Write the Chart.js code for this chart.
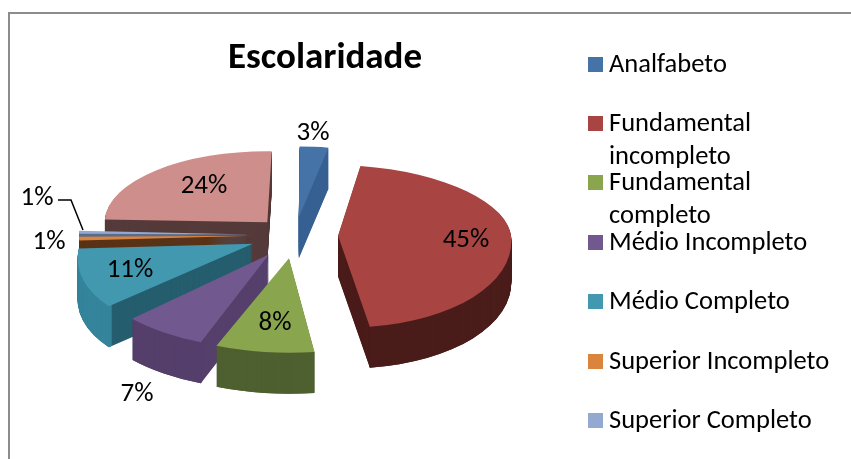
<!DOCTYPE html>
<html><head><meta charset="utf-8">
<style>html,body{margin:0;padding:0;background:#fff}canvas{display:block}</style>
<script src="https://cdn.jsdelivr.net/npm/chart.js@4/dist/chart.umd.min.js"></script>
</head><body>
<canvas id="c" width="851" height="459"></canvas>
<script>
const chartTitle = 'Escolaridade';
const categories = ['Analfabeto','Fundamental incompleto','Fundamental completo','Médio Incompleto','Médio Completo','Superior Incompleto','Superior Completo',''];
const values = [3,45,8,7,11,1,1,24];

const topColors = ['#4572a7','#a84442','#89a54e','#71588f','#4198af','#db843d','#93a9cf','#ce8e8c'];
const cutColors = ['#376092','#4a1c1a','#4f6030','#553f6b','#255e6e','#5a3216','#5a6c8c','#553a3a'];
const rimColors = ['#376092','#4a1c1a','#4f6030','#553f6b','#34849b','#5a3216','#5a6c8c','#553a3a'];
const drawOrder = [7,6,0,5,4,3,1,2];
const xStretch = [0.94,1,1.12,1.08,1,1,1,0.94];
const yStretch = [1,1,1.03,1.03,0.98,1,1,1];
const shearAbove = [0,0.145,0,0,0,0,0,0];
const shearBelow = [0,0.11,0,0,-0.31,0,0,0];

const DEPTH = 41, S_TOP = 0.41, S_BOT = 0.53, EXPLODE = 43, RADIUS = 173, WIDEN = 0.027;
const FONT = 'Carlito, Lato, sans-serif';

const legendRows = [
  {i:0, y:57, lines:['Analfabeto']},
  {i:1, y:116, lines:['Fundamental','incompleto']},
  {i:2, y:175, lines:['Fundamental','completo']},
  {i:3, y:235, lines:['Médio Incompleto']},
  {i:4, y:294, lines:['Médio Completo']},
  {i:5, y:354, lines:['Superior Incompleto']},
  {i:6, y:413, lines:['Superior Completo']}
];
const labelSpots = [[313,133],[466,240],[275,323],[137,394],[130,270],[49,242],[37,198],[204,186]];

function paint(ctx, arc, dy, color, rim){
  const saved = {o:arc.options, i:arc.innerRadius, r:arc.outerRadius, s:arc.startAngle, e:arc.endAngle};
  const o = Object.create(saved.o); o.backgroundColor = color; arc.options = o;
  const fix = 1 - Math.sin(Math.min(Math.PI, arc.circumference));
  arc.outerRadius = RADIUS - EXPLODE * fix;
  arc.startAngle -= WIDEN; arc.endAngle += WIDEN;
  if (rim) arc.innerRadius = arc.outerRadius - 4;
  const k = arc.$idx, cx = arc.x, cy = arc.y, sx = xStretch[k], sy = yStretch[k];
  const W = ctx.canvas.width, H = ctx.canvas.height, mid = Math.round(cy + dy);
  [[0, mid, S_TOP, shearAbove[k]],[mid, H - mid, S_BOT, shearBelow[k]]].forEach(([ry, rh, s, shear])=>{
    ctx.save();
    ctx.beginPath(); ctx.rect(0, ry, W, rh); ctx.clip();
    ctx.translate(cx, mid); ctx.transform(1,0,shear,1,0,0); ctx.scale(sx, s*sy); ctx.translate(-cx, -cy);
    arc.draw(ctx);
    ctx.restore();
  });
  arc.options = saved.o; arc.innerRadius = saved.i; arc.outerRadius = saved.r;
  arc.startAngle = saved.s; arc.endAngle = saved.e;
}

const pie3d = {
  id:'pie3d',
  beforeDatasetsDraw(chart){
    const ctx = chart.ctx, arcs = chart.getDatasetMeta(0).data;
    arcs.forEach((a,i)=>a.$idx=i);
    drawOrder.forEach(i=>{
      const a = arcs[i];
      for(let d=DEPTH;d>=1;d--) paint(ctx,a,d,cutColors[i],false);
      for(let d=DEPTH;d>=1;d--) paint(ctx,a,d,rimColors[i],true);
      paint(ctx,a,0,topColors[i],false);
    });
    return false;
  },
  afterDraw(chart){
    const ctx = chart.ctx;
    ctx.save();
    ctx.strokeStyle='#8c8c8c'; ctx.lineWidth=2;
    ctx.beginPath(); ctx.moveTo(9,470); ctx.lineTo(9,13); ctx.lineTo(860,13); ctx.stroke();
    ctx.fillStyle='#000'; ctx.textAlign='center'; ctx.textBaseline='middle';
    ctx.font='bold 37px '+FONT;
    ctx.fillText(chartTitle,325,59);
    ctx.font='27px '+FONT;
    values.forEach((v,i)=>ctx.fillText(v+'%',labelSpots[i][0],labelSpots[i][1]));
    ctx.strokeStyle='#000'; ctx.lineWidth=1.5;
    ctx.beginPath(); ctx.moveTo(58,200); ctx.lineTo(71,200); ctx.lineTo(83,230); ctx.stroke();
    ctx.textAlign='left'; ctx.textBaseline='alphabetic';
    ctx.font='26.5px '+FONT;
    legendRows.forEach(r=>{
      ctx.fillStyle=topColors[r.i];
      ctx.fillRect(588,r.y,15,15);
      ctx.fillStyle='#000';
      r.lines.forEach((t,k)=>ctx.fillText(t,609,r.y+15+k*33));
    });
    ctx.restore();
  }
};

new Chart(document.getElementById('c'),{
  type:'pie',
  data:{labels:categories,datasets:[{data:values,backgroundColor:topColors,borderWidth:0,offset:EXPLODE*4,radius:130}]},
  options:{
    responsive:false,animation:false,
    layout:{padding:{left:0,right:261,top:11,bottom:0}},
    plugins:{legend:{display:false},tooltip:{enabled:false},title:{display:false}}
  },
  plugins:[pie3d]
});
</script>
</body></html>
